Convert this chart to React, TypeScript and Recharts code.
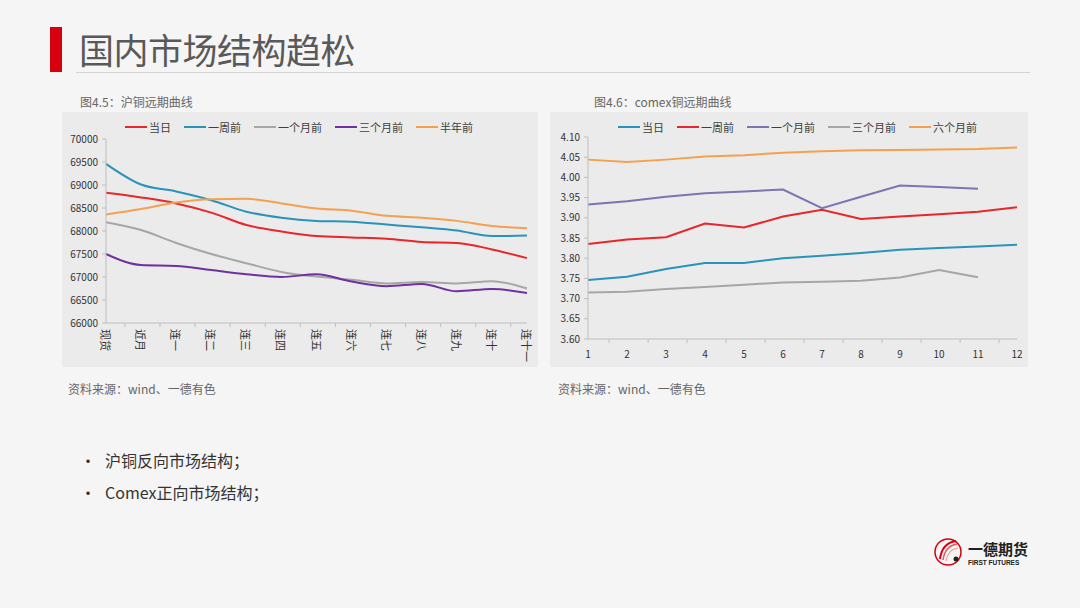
import React from 'react';
import { LineChart, Line, XAxis, YAxis, Legend } from 'recharts';

// 沪铜远期曲线
const shfeCategories = ['现货', '近月', '连一', '连二', '连三', '连四', '连五', '连六', '连七', '连八', '连九', '连十', '连十一'];
const shfeToday = [68830, 68730, 68600, 68400, 68130, 67990, 67890, 67860, 67830, 67760, 67740, 67600, 67410];
const shfeWeekAgo = [69460, 69010, 68860, 68670, 68420, 68290, 68220, 68200, 68140, 68080, 68010, 67890, 67900];
const shfeMonthAgo = [68190, 68020, 67740, 67500, 67300, 67110, 67010, 66940, 66860, 66890, 66860, 66910, 66750];
const shfeThreeMonthsAgo = [67500, 67260, 67240, 67150, 67060, 67000, 67060, 66900, 66800, 66850, 66690, 66740, 66650];
const shfeHalfYearAgo = [68360, 68480, 68620, 68690, 68700, 68600, 68490, 68440, 68330, 68290, 68220, 68110, 68060];
const shfeTicks = [66000, 66500, 67000, 67500, 68000, 68500, 69000, 69500, 70000];

// comex铜远期曲线
const comexCategories = ['1', '2', '3', '4', '5', '6', '7', '8', '9', '10', '11', '12'];
const comexToday = [3.746, 3.754, 3.773, 3.788, 3.788, 3.8, 3.806, 3.813, 3.821, 3.825, 3.829, 3.833];
const comexWeekAgo = [3.835, 3.846, 3.852, 3.886, 3.876, 3.903, 3.92, 3.897, 3.903, 3.909, 3.915, 3.926];
const comexMonthAgo = [3.933, 3.941, 3.952, 3.961, 3.965, 3.97, 3.924, 3.952, 3.98, 3.976, 3.972, null];
const comexThreeMonthsAgo = [3.715, 3.717, 3.724, 3.729, 3.734, 3.74, 3.742, 3.744, 3.752, 3.771, 3.753, null];
const comexSixMonthsAgo = [4.044, 4.038, 4.044, 4.052, 4.055, 4.061, 4.065, 4.067, 4.068, 4.069, 4.07, 4.074];
const comexTicks = [3.6, 3.65, 3.7, 3.75, 3.8, 3.85, 3.9, 3.95, 4.0, 4.05, 4.1];

const FONT = '"Noto Sans CJK SC", "Microsoft YaHei", sans-serif';
const AXIS = '#bfbfbf';

const shfeData = shfeCategories.map((name, i) => ({
  name,
  s1: shfeToday[i],
  s2: shfeWeekAgo[i],
  s3: shfeMonthAgo[i],
  s4: shfeThreeMonthsAgo[i],
  s5: shfeHalfYearAgo[i],
}));

const comexData = comexCategories.map((name, i) => ({
  name,
  s1: comexToday[i],
  s2: comexWeekAgo[i],
  s3: comexMonthAgo[i],
  s4: comexThreeMonthsAgo[i],
  s5: comexSixMonthsAgo[i],
}));

const shfeSeries = [
  { key: 's1', name: '当日', color: '#e8262b' },
  { key: 's2', name: '一周前', color: '#2a93b8' },
  { key: 's3', name: '一个月前', color: '#a6a6a6' },
  { key: 's4', name: '三个月前', color: '#7030a0' },
  { key: 's5', name: '半年前', color: '#f5a050' },
];

const comexSeries = [
  { key: 's1', name: '当日', color: '#2a93b8' },
  { key: 's2', name: '一周前', color: '#e8262b' },
  { key: 's3', name: '一个月前', color: '#7a76b0' },
  { key: 's4', name: '三个月前', color: '#a6a6a6' },
  { key: 's5', name: '六个月前', color: '#f5a050' },
];

// keeps the legend in series order (recharts sorts by name otherwise)
const LegendRow = ({ payload, order }: any) => {
  const items = [...(payload || [])].sort(
    (a: any, b: any) => order.indexOf(a.dataKey) - order.indexOf(b.dataKey)
  );
  return (
    <div style={{ display: 'flex', alignItems: 'center', fontFamily: FONT, fontSize: 11, color: '#404040', whiteSpace: 'nowrap' }}>
      {items.map((p: any) => (
        <div key={p.value} style={{ display: 'flex', alignItems: 'center', marginRight: 13 }}>
          <svg width={22} height={4}>
            <line x1={0} y1={2} x2={22} y2={2} stroke={p.color} strokeWidth={2} />
          </svg>
          <span style={{ marginLeft: 2 }}>{p.value}</span>
        </div>
      ))}
    </div>
  );
};

// Excel style: tick marks between categories, labels in the middle
const BandTick = (props: any) => {
  const { x, y, payload, index, bw, count, vertical } = props;
  const left = x - bw / 2;
  return (
    <g>
      <line x1={left} y1={y} x2={left} y2={y + 4} stroke={AXIS} />
      {index === count - 1 && <line x1={x + bw / 2} y1={y} x2={x + bw / 2} y2={y + 4} stroke={AXIS} />}
      {vertical ? (
        <text
          transform={`translate(${x},${y + 6}) rotate(90)`}
          textAnchor="start"
          dominantBaseline="central"
          fontSize={11}
          fill="#333"
          fontFamily={FONT}
        >
          {payload.value}
        </text>
      ) : (
        <text x={x} y={y + 14} textAnchor="middle" dominantBaseline="central" fontSize={10} fill="#333" fontFamily={FONT}>
          {payload.value}
        </text>
      )}
    </g>
  );
};

const boxStyle = (left: number): React.CSSProperties => ({
  position: 'absolute',
  left,
  top: 112,
  background: '#ebebeb',
});

export default function App() {
  const yTick = { fontSize: 10, fill: '#333', fontFamily: FONT };
  const order = ['s1', 's2', 's3', 's4', 's5'];
  return (
    <div style={{ position: 'fixed', left: 0, top: 0, width: 1080, height: 608, background: '#f5f5f5', fontFamily: FONT, overflow: 'hidden' }}>
      {/* title */}
      <div style={{ position: 'absolute', left: 50, top: 27, width: 12, height: 45, background: '#d7000f' }} />
      <div style={{ position: 'absolute', left: 79, top: 24, fontSize: 35, color: '#595959', lineHeight: '50px', letterSpacing: -0.5 }}>国内市场结构趋松</div>
      <div style={{ position: 'absolute', left: 76, top: 72, width: 954, height: 1, background: '#d4d4d4' }} />

      {/* captions */}
      <div style={{ position: 'absolute', left: 80, top: 93, fontSize: 12, color: '#666' }}>图4.5：沪铜远期曲线</div>
      <div style={{ position: 'absolute', left: 594, top: 93, fontSize: 12, color: '#666' }}>图4.6：comex铜远期曲线</div>

      <div style={boxStyle(62)}>
        <LineChart width={476} height={255} data={shfeData} margin={{ top: 27, right: 11, bottom: 0, left: 0 }}>
          <XAxis
            dataKey="name"
            interval={0}
            height={44}
            stroke={AXIS}
            tickLine={false}
            tickSize={0}
            tickMargin={0}
            tick={<BandTick bw={421 / 13} count={13} vertical />}
          />
          <YAxis
            domain={[66000, 70000]}
            ticks={shfeTicks}
            width={44}
            stroke={AXIS}
            tickSize={4}
            tickMargin={4}
            tick={yTick}
            interval={0}
          />
          <Legend
            layout="horizontal"
            verticalAlign="middle"
            align="center"
            content={<LegendRow order={order} />}
            wrapperStyle={{ top: 7, left: 63, width: 'auto' }}
          />
          {shfeSeries.map(s => (
            <Line key={s.key} type="monotone" dataKey={s.key} name={s.name} stroke={s.color} strokeWidth={2} dot={false} isAnimationActive={false} />
          ))}
        </LineChart>
      </div>

      <div style={boxStyle(550)}>
        <LineChart width={478} height={255} data={comexData} margin={{ top: 25, right: 11, bottom: 0, left: 0 }}>
          <XAxis
            dataKey="name"
            interval={0}
            height={28}
            stroke={AXIS}
            tickLine={false}
            tickSize={0}
            tickMargin={0}
            tick={<BandTick bw={429 / 12} count={12} />}
          />
          <YAxis
            domain={[3.6, 4.1]}
            ticks={comexTicks}
            width={38}
            stroke={AXIS}
            tickSize={4}
            tickMargin={4}
            tick={yTick}
            interval={0}
            tickFormatter={(v: number) => v.toFixed(2)}
          />
          <Legend
            layout="horizontal"
            verticalAlign="middle"
            align="center"
            content={<LegendRow order={order} />}
            wrapperStyle={{ top: 7, left: 68, width: 'auto' }}
          />
          {comexSeries.map(s => (
            <Line key={s.key} type="linear" dataKey={s.key} name={s.name} stroke={s.color} strokeWidth={2} dot={false} connectNulls={false} isAnimationActive={false} />
          ))}
        </LineChart>
      </div>

      {/* sources */}
      <div style={{ position: 'absolute', left: 68, top: 380, fontSize: 12, color: '#666' }}>资料来源：wind、一德有色</div>
      <div style={{ position: 'absolute', left: 558, top: 380, fontSize: 12, color: '#666' }}>资料来源：wind、一德有色</div>

      {/* bullets */}
      <div style={{ position: 'absolute', left: 80, top: 448, fontSize: 16, color: '#333', lineHeight: '24px' }}>
        <div><span style={{ display: 'inline-block', width: 25 }}>•</span>沪铜反向市场结构；</div>
        <div style={{ marginTop: 8 }}><span style={{ display: 'inline-block', width: 25 }}>•</span>Comex正向市场结构；</div>
      </div>

      {/* logo */}
      <svg style={{ position: 'absolute', left: 932, top: 535 }} width={110} height={34}>
        <circle cx={16} cy={17} r={13} fill="none" stroke="#d7000f" strokeWidth={1.5} />
        <path d="M8 24 Q10 8 24 6" fill="none" stroke="#d7000f" strokeWidth={2} />
        <path d="M11 25 Q13 11 25 9" fill="none" stroke="#e35a5a" strokeWidth={1.5} />
        <path d="M14 26 Q16 14 26 13" fill="none" stroke="#ee9a9a" strokeWidth={1.2} />
        <circle cx={24} cy={24} r={2.5} fill="#222" />
        <text x={36} y={20} fontSize={15} fontWeight={700} fill="#222" fontFamily={FONT}>一德期货</text>
        <text x={36} y={30} fontSize={6.5} fontWeight={700} fill="#222" fontFamily="Arial, sans-serif">FIRST FUTURES</text>
      </svg>
    </div>
  );
}
